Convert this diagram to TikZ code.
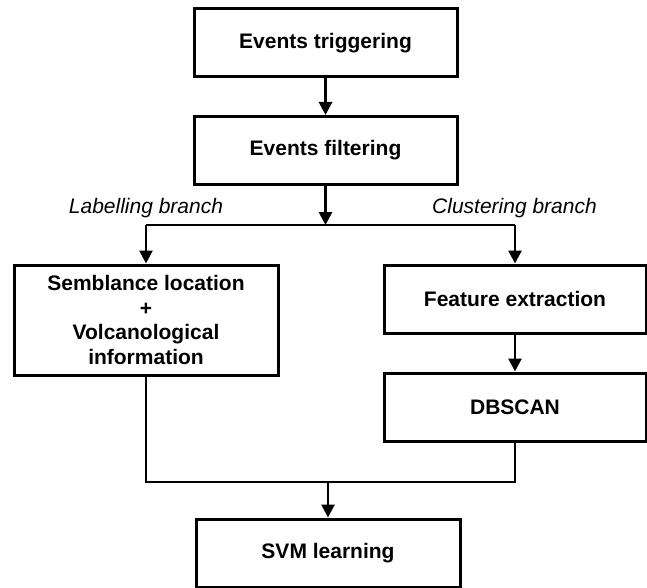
\documentclass[tikz,border=0pt]{standalone}
\usepackage{fontspec}
\setmainfont{Liberation Sans}
\usetikzlibrary{arrows.meta}

\tikzset{
  stepbox/.style={draw=black, line width=3pt, fill=white, inner sep=0pt,
    minimum width=263pt, minimum height=68pt, align=center,
    font=\fontsize{21}{24.5}\selectfont\bfseries},
  link/.style={draw=black, line width=2.8pt},
  arr/.style={link, -{Triangle[length=13pt,width=13pt]}},
  branchlabel/.style={font=\fontsize{21}{24}\selectfont\itshape, inner sep=0pt}
}

\begin{document}
\begin{tikzpicture}[x=1pt, y=-1pt]
  \useasboundingbox (0,0) rectangle (647,588);

  % pipeline stages
  \node[stepbox] (trig) at (325.5,43) {Events triggering};
  \node[stepbox] (filt) at (325.5,150.5) {Events filtering};
  \node[stepbox, minimum width=264pt, minimum height=110pt] (semb) at (146,320)
    {Semblance location\\+\\Volcanological\\information};
  \node[stepbox, minimum width=262pt] (feat) at (515,299) {Feature extraction};
  \node[stepbox, minimum width=262pt] (dbscan) at (515,407) {DBSCAN};
  \node[stepbox, minimum width=264pt] (svm) at (328,553) {SVM learning};

  % branch labels
  \node[branchlabel] (lablab) at (146,208) {Labelling branch};
  \node[branchlabel] (clulab) at (514.5,208) {Clustering branch};

  % split and merge points
  \coordinate (split) at (325.5,225);
  \coordinate (join) at (328,482);

  % connectors
  \draw[arr] (trig) -- (filt);
  \draw[arr] (filt) -- (split);
  \draw[link] (semb.north |- split) -- (feat.north |- split);
  \draw[arr] (semb.north |- split) -- (semb);
  \draw[arr] (feat.north |- split) -- (feat);
  \draw[arr] (feat) -- (dbscan);
  \draw[link] (semb) |- (join) -| (dbscan);
  \draw[arr] (join) -- (svm);
\end{tikzpicture}
\end{document}
